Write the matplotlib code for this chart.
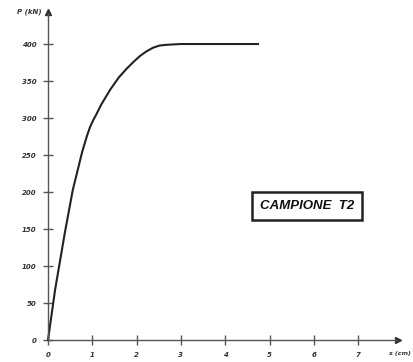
import matplotlib
matplotlib.use("Agg")
import matplotlib.pyplot as plt

# load-displacement curve, sample T2
s_cm = [0, 0.16, 0.38, 0.56, 0.77, 0.88, 0.95, 1.02, 1.1, 1.2, 1.40, 1.6, 1.78,
        1.95, 2.08, 2.22, 2.37, 2.52, 2.69, 3.0, 4.74]
P_kN = [0, 68, 145, 203, 254, 276, 288, 297, 306, 318, 338, 355, 367,
        377, 384, 390, 395, 398, 399, 400, 400]

x_ticks = [0, 1, 2, 3, 4, 5, 6, 7]
y_ticks = [0, 50, 100, 150, 200, 250, 300, 350, 400]

fig = plt.figure(figsize=(4.14, 3.62), dpi=100)
ax = fig.add_axes([0, 0, 1, 1])
ax.set_xlim(-1.084, 8.262)
ax.set_ylim(-29.7, 459.5)

axis_col = "#555555"
for side in ("top", "right"):
    ax.spines[side].set_visible(False)
ax.spines["left"].set_position(("data", 0))
ax.spines["bottom"].set_position(("data", 0))
ax.spines["left"].set_bounds(0, 440)
ax.spines["bottom"].set_bounds(0, 7.85)
for side in ("left", "bottom"):
    ax.spines[side].set_color(axis_col)
    ax.spines[side].set_linewidth(1.0)

# arrow heads at the axis ends
ax.plot(7.9, 0, marker=">", ms=5, color="#333333", clip_on=False)
ax.plot(0, 443, marker="^", ms=5, color="#333333", clip_on=False)

ax.set_xticks(x_ticks)
ax.set_yticks(y_ticks)
ax.tick_params(direction="inout", length=7, width=1, color=axis_col,
               labelsize=5, labelcolor="#333333")
ax.tick_params(axis="x", pad=5)
ax.tick_params(axis="y", pad=5)
for lab in ax.get_xticklabels() + ax.get_yticklabels():
    lab.set_fontstyle("italic")
    lab.set_fontweight("bold")

ax.text(-0.7, 443, "P (kN)", fontsize=5, style="italic", weight="bold",
        color="#333333", ha="left", va="center")
ax.text(7.7, -18, "s (cm)", fontsize=4.5, style="italic", weight="bold",
        color="#333333", ha="left", va="center")

ax.plot(s_cm, P_kN, color="#222222", lw=1.5)

ax.text(5.85, 181, "CAMPIONE  T2", fontsize=9.5, style="italic", weight="bold",
        family="Liberation Sans", color="#111111", ha="center", va="center",
        bbox=dict(boxstyle="square,pad=0.6", fc="white", ec="#222222", lw=1.8))

fig.savefig("out.png", dpi=100)
